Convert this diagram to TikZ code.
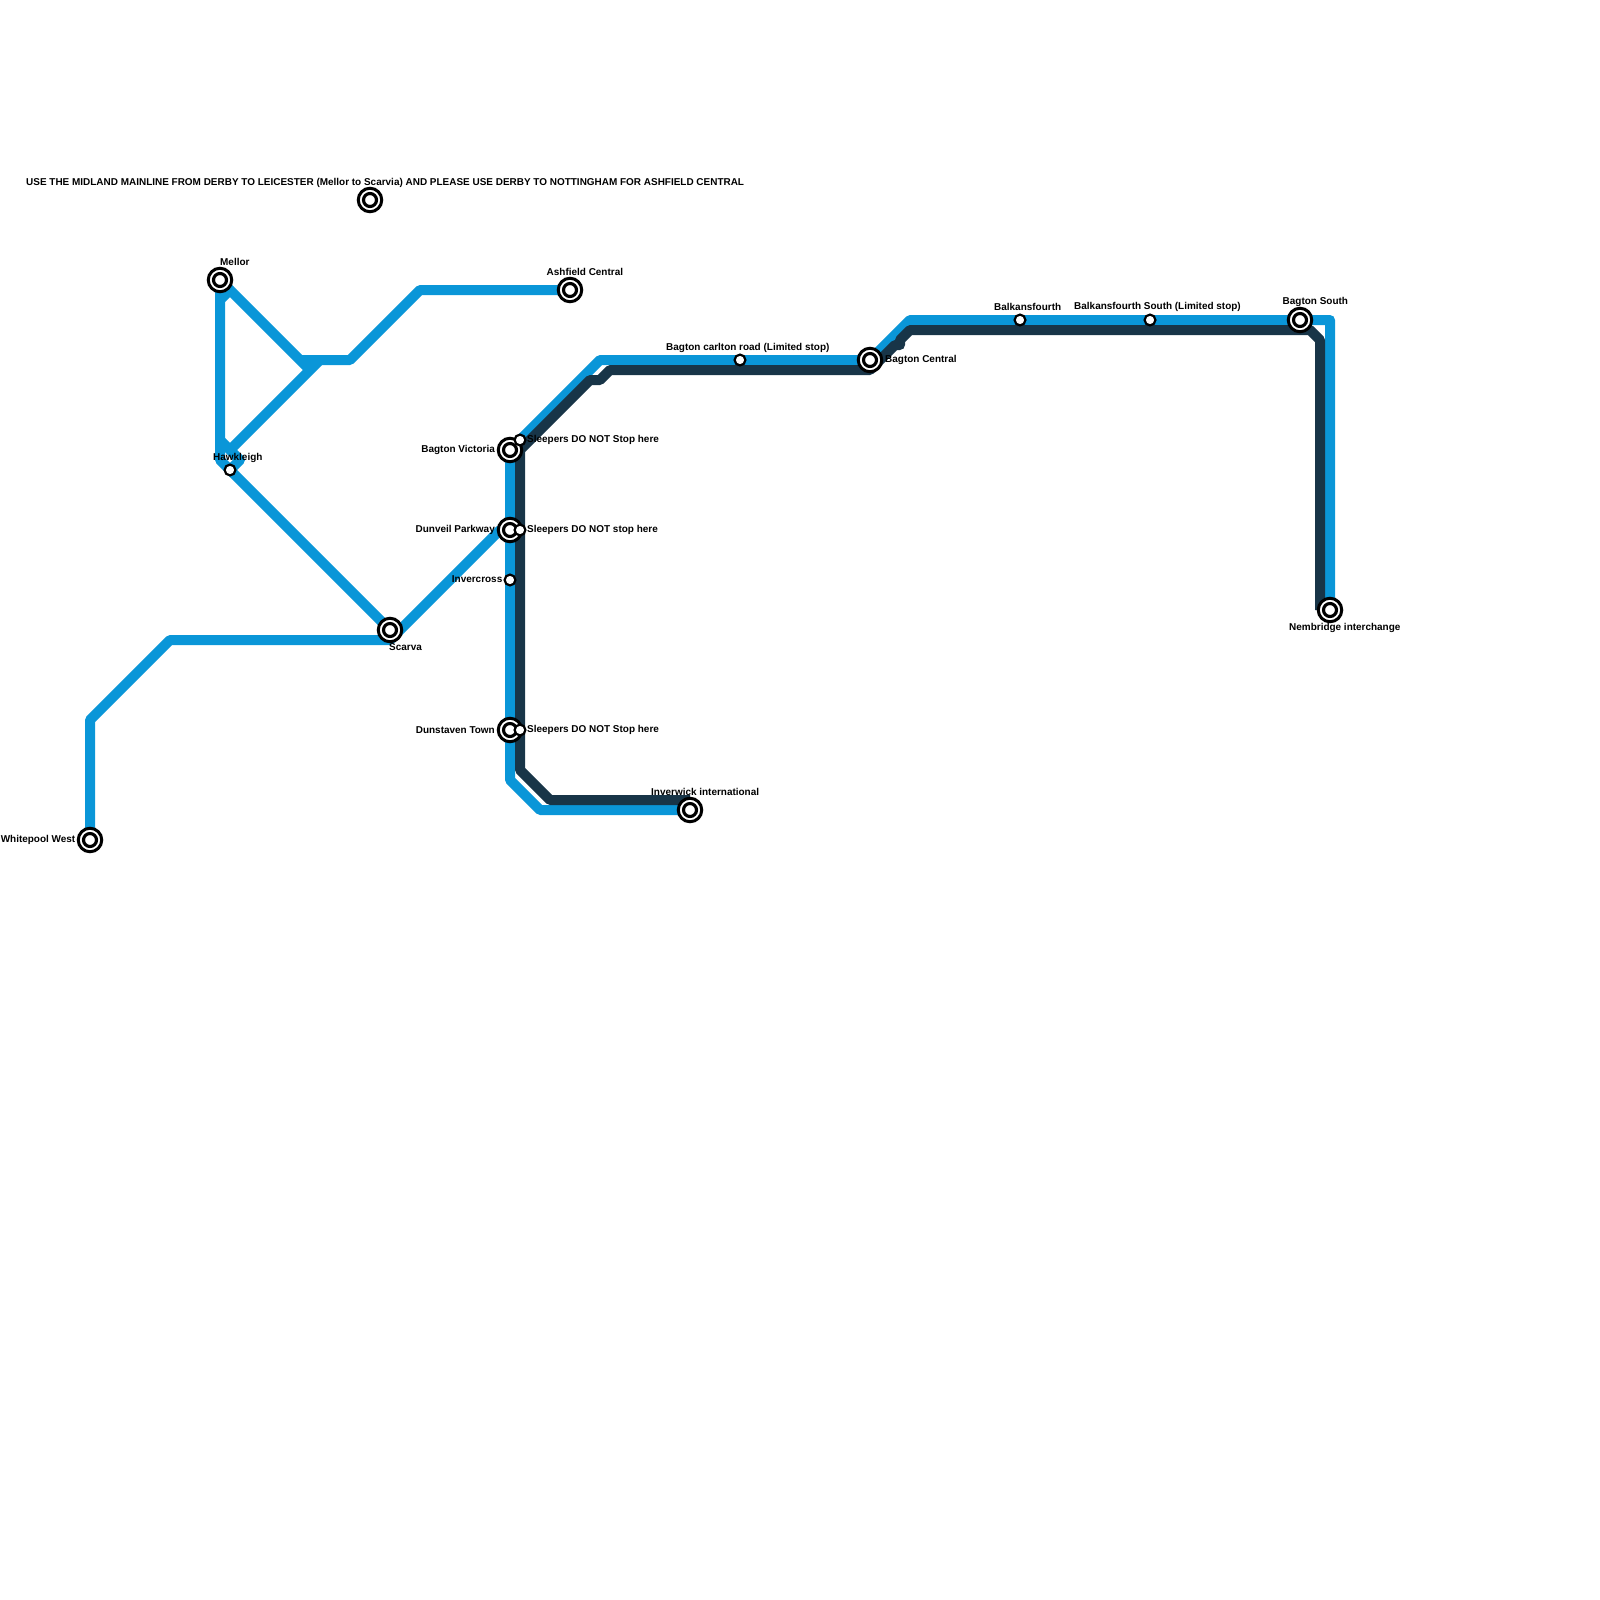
\documentclass[tikz,border=0pt]{standalone}
\usepackage{fontspec}
\setmainfont{Liberation Sans}
\tikzset{
  blueline/.style={draw=lineblue,line width=10pt,line join=round},
  darkline/.style={draw=linedark,line width=10pt,line join=round},
  bigstation/.style={circle,draw=black,fill=white,line width=3pt,minimum size=23.5pt,inner sep=0pt},
  dotstation/.style={circle,draw=black,fill=white,line width=3.15pt,minimum size=13pt,inner sep=0pt},
  smallstation/.style={circle,draw=black,fill=white,line width=2.2pt,minimum size=10.8pt,inner sep=0pt},
  lbl/.style={font=\fontsize{9.96}{12}\selectfont\bfseries,inner sep=0pt,text=black},
  lblw/.style={lbl,anchor=west},
  lble/.style={lbl,anchor=east}
}
\definecolor{lineblue}{HTML}{0A96D8}
\definecolor{linedark}{HTML}{183548}
\begin{document}
\begin{tikzpicture}[x=1pt,y=-1pt]
\useasboundingbox (0,0) rectangle (1600,1600);
% bends
\coordinate (wp) at (90,840);
\coordinate (b1) at (90,720);
\coordinate (b2) at (170,640);
\coordinate (b3) at (390,640);
\coordinate (b4) at (500,530);
\coordinate (dv) at (510,530);
\coordinate (ha) at (230,470);
\coordinate (sc) at (390,630);
\coordinate (m0) at (220,280);
\coordinate (m1) at (220,300);
\coordinate (m2) at (230,290);
\coordinate (j1) at (308,368);
\coordinate (j2) at (350,360);
\coordinate (j0) at (300,360);
\coordinate (j3) at (420,290);
\coordinate (as) at (570,290);
\coordinate (h1) at (220,460);
\coordinate (h2) at (220,440);
\coordinate (h3) at (240,460);
\coordinate (h5) at (230,450);
\coordinate (h4) at (320,360);
\coordinate (v0) at (520,440);
\coordinate (v1) at (510,450);
\coordinate (v2) at (510,780);
\coordinate (v3) at (540,810);
\coordinate (iw) at (690,810);
\coordinate (t1) at (600,360);
\coordinate (bc) at (870,360);
\coordinate (t2) at (910,320);
\coordinate (t3) at (1330,320);
\coordinate (nb) at (1330,610);
\coordinate (d0) at (520,450);
\coordinate (d1) at (520,770);
\coordinate (d2) at (550,800);
\coordinate (d3) at (690,800);
\coordinate (d4) at (590,380);
\coordinate (d5) at (600,380);
\coordinate (d6) at (610,370);
\coordinate (d7) at (870,370);
\coordinate (d8) at (895,345);
\coordinate (d9) at (900,345);
\coordinate (d10) at (900,340);
\coordinate (d11) at (910,330);
\coordinate (d12) at (1310,330);
\coordinate (d13) at (1320,340);
\coordinate (d14) at (1320,610);
% blue lines
\draw[blueline] (wp)--(b1)--(b2)--(b3)--(b4)--(dv);
\draw[blueline] (ha)--(sc);
\draw[blueline] (ha)--(h1)--(m1)--(m2)--(j1);
\draw[blueline] (m0)--(m1);
\draw[blueline] (m0)--(m2);
\draw[blueline] (j0)--(j2)--(j3)--(as);
\draw[blueline] (h2)--(h3)--(ha);
\draw[blueline] (h5)--(h4);
\draw[blueline] (v0)--(v1)--(v2)--(v3)--(iw);
\draw[blueline] (v0)--(t1)--(bc)--(t2)--(t3)--(nb);
% dark lines
\draw[darkline] (d3)--(d2)--(d1)--(d0)--(d4)--(d5)--(d6)--(d7)--(d8)--(d9)--(d10)--(d11)--(d12)--(d13)--(d14);
% stations
\foreach \nm/\px/\py in {top/370/200,mel/220/280,ash/570/290,sca/390/630,whi/90/840,vic/510/450,dun/510/530,dns/510/730,inw/690/810,cen/870/360,sou/1300/320,nem/1330/610}{
  \node[bigstation] (\nm) at (\px,\py) {};
  \node[dotstation] (\nm d) at (\px,\py) {};
}
\foreach \nm/\px/\py in {haw/230/470,sl1/520/440,sl2/520/530,inv/510/580,sl3/520/730,car/740/360,bal/1020/320,bas/1150/320}{
  \node[smallstation] (\nm) at (\px,\py) {};
}
% labels
\node[lblw] (ltop) at (26,183) {USE THE MIDLAND MAINLINE FROM DERBY TO LEICESTER (Mellor to Scarvia) AND PLEASE USE DERBY TO NOTTINGHAM FOR ASHFIELD CENTRAL};
\node[lblw] (lmel) at (220,262) {Mellor};
\node[lblw] (lash) at (546.5,272) {Ashfield Central};
\node[lblw] (lhaw) at (213,458) {Hawkleigh};
\node[lblw] (lsca) at (389,647) {Scarva};
\node[lble] (lwhi) at (75.5,840) {Whitepool West};
\node[lble] (lvic) at (495,450) {Bagton Victoria};
\node[lblw] (lsl1) at (527,440) {Sleepers DO NOT Stop here};
\node[lble] (ldun) at (495,530) {Dunveil Parkway};
\node[lblw] (lsl2) at (527,530) {Sleepers DO NOT stop here};
\node[lble] (linv) at (502.5,579) {Invercross};
\node[lble] (ldns) at (495,730) {Dunstaven Town};
\node[lblw] (lsl3) at (527,730) {Sleepers DO NOT Stop here};
\node[lblw] (linw) at (651,792) {Inverwick international};
\node[lblw] (lcar) at (666,348) {Bagton carlton road (Limited stop)};
\node[lblw] (lcen) at (885,360) {Bagton Central};
\node[lblw] (lbal) at (994,307) {Balkansfourth};
\node[lblw] (lbas) at (1074,307) {Balkansfourth South (Limited stop)};
\node[lblw] (lsou) at (1282.5,302) {Bagton South};
\node[lblw] (lnem) at (1289,628) {Nembridge interchange};
\end{tikzpicture}
\end{document}
